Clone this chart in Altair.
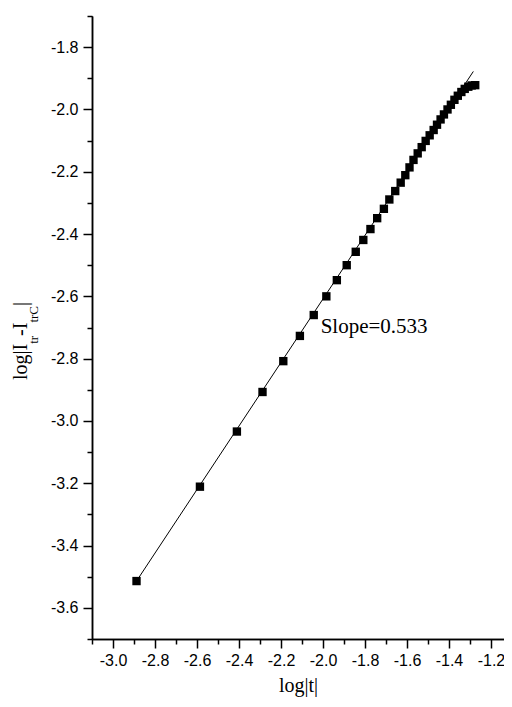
import altair as alt
import pandas as pd

# measured data points (log|t|, log|I_tr - I_trC|)
log_t = [-2.888, -2.586, -2.410, -2.288, -2.189, -2.110, -2.044, -1.984, -1.934,
         -1.887, -1.844, -1.808, -1.774, -1.742, -1.710, -1.684, -1.656, -1.630,
         -1.608, -1.588, -1.569, -1.549, -1.530, -1.511, -1.492, -1.473, -1.457,
         -1.440, -1.424, -1.407, -1.391, -1.374, -1.358, -1.341, -1.325, -1.308,
         -1.292, -1.275]
log_i = [-3.514, -3.211, -3.034, -2.907, -2.808, -2.727, -2.660, -2.600, -2.548,
         -2.500, -2.457, -2.419, -2.384, -2.349, -2.319, -2.289, -2.262, -2.235,
         -2.211, -2.186, -2.162, -2.141, -2.121, -2.101, -2.083, -2.066, -2.049,
         -2.032, -2.016, -2.000, -1.985, -1.969, -1.956, -1.944, -1.934, -1.927,
         -1.923, -1.922]

# fitted line end points
fit_x = [-2.888, -1.284]
fit_y = [-3.514, -1.878]

# ticks
x_major = [-3.0, -2.8, -2.6, -2.4, -2.2, -2.0, -1.8, -1.6, -1.4, -1.2]
x_minor = [-3.1, -2.9, -2.7, -2.5, -2.3, -2.1, -1.9, -1.7, -1.5, -1.3]
y_major = [-1.8, -2.0, -2.2, -2.4, -2.6, -2.8, -3.0, -3.2, -3.4, -3.6]
y_minor = [-1.7, -1.9, -2.1, -2.3, -2.5, -2.7, -2.9, -3.1, -3.3, -3.5, -3.7]
x_domain = [-3.1, -1.138]
y_domain = [-3.7, -1.7]

annot_text = ["Slope=0.533"]
annot_x = [-2.011]
annot_y = [-2.699]

# y-axis title pieces
ytitle_txt = ["log|I", "tr", "-I", "trC", "|"]
ytitle_size = [20, 13, 20, 13, 20]
ytitle_xpx = [-65, -54, -65, -54, -65]
ytitle_ypx = [364, 327.8, 319.9, 306.6, 290]

pts = pd.DataFrame({"x": log_t, "y": log_i})
fit = pd.DataFrame({"x": fit_x, "y": fit_y})

label_expr = "(datum.value < 0 ? '-' : '') + format(abs(datum.value), '.1f')"
serif = "Liberation Serif"
sans = "Liberation Sans"

xs = alt.Scale(domain=x_domain, nice=False, zero=False)
ys = alt.Scale(domain=y_domain, nice=False, zero=False)

major_x_axis = alt.Axis(orient="bottom", values=x_major, labelExpr=label_expr,
                        tickSize=9, tickWidth=1.5, domainWidth=1.5,
                        domainColor="black", tickColor="black", grid=False,
                        labelFont=sans, labelFontSize=16, labelColor="black",
                        labelPadding=4, title="log|t|", titleFont=serif,
                        titleFontSize=20, titleFontWeight="normal",
                        titleColor="black", titlePadding=7, labelFlush=False)
major_y_axis = alt.Axis(orient="left", values=y_major, labelExpr=label_expr,
                        tickSize=9, tickWidth=1.5, domainWidth=1.5,
                        domainColor="black", tickColor="black", grid=False,
                        labelFont=sans, labelFontSize=16, labelColor="black",
                        labelPadding=5, title=None, labelFlush=False)
minor_x_axis = alt.Axis(orient="bottom", values=x_minor, labels=False,
                        tickSize=5, tickWidth=1.5, domainWidth=1.5,
                        domainColor="black", tickColor="black", grid=False,
                        title=None)
minor_y_axis = alt.Axis(orient="left", values=y_minor, labels=False,
                        tickSize=5, tickWidth=1.5, domainWidth=1.5,
                        domainColor="black", tickColor="black", grid=False,
                        title=None)

points = alt.Chart(pts).mark_square(size=70, color="black", opacity=1).encode(
    x=alt.X("x:Q", scale=xs, axis=major_x_axis),
    y=alt.Y("y:Q", scale=ys, axis=major_y_axis),
)

line = alt.Chart(fit).mark_line(color="black", strokeWidth=1).encode(
    x=alt.X("x:Q", scale=xs, axis=minor_x_axis),
    y=alt.Y("y:Q", scale=ys, axis=minor_y_axis),
)

annot = alt.Chart(pd.DataFrame({"x": annot_x, "y": annot_y, "t": annot_text})).mark_text(
    align="left", baseline="middle", font=serif, fontSize=21, color="black"
).encode(
    x=alt.X("x:Q", scale=xs, axis=None),
    y=alt.Y("y:Q", scale=ys, axis=None),
    text="t:N",
)

title_df = pd.DataFrame({"t": ytitle_txt, "s": ytitle_size,
                         "px": ytitle_xpx, "py": ytitle_ypx})
ytitle_layers = []
for i in range(len(ytitle_txt)):
    ytitle_layers.append(
        alt.Chart(title_df.iloc[[i]]).mark_text(
            align="left", baseline="alphabetic", angle=270, font=serif,
            fontSize=int(ytitle_size[i]), color="black"
        ).encode(
            x=alt.value(ytitle_xpx[i]),
            y=alt.value(ytitle_ypx[i]),
            text="t:N",
        )
    )

chart = alt.layer(line, points, annot, *ytitle_layers).resolve_axis(
    x="independent", y="independent"
).properties(
    width=412, height=623,
    autosize=alt.AutoSizeParams(type="none"),
    padding={"left": 84, "top": 8, "right": 0, "bottom": 58},
    background="white",
).configure_view(stroke=None)

chart.save("out.html", embed_options={"renderer": "svg", "actions": False})
